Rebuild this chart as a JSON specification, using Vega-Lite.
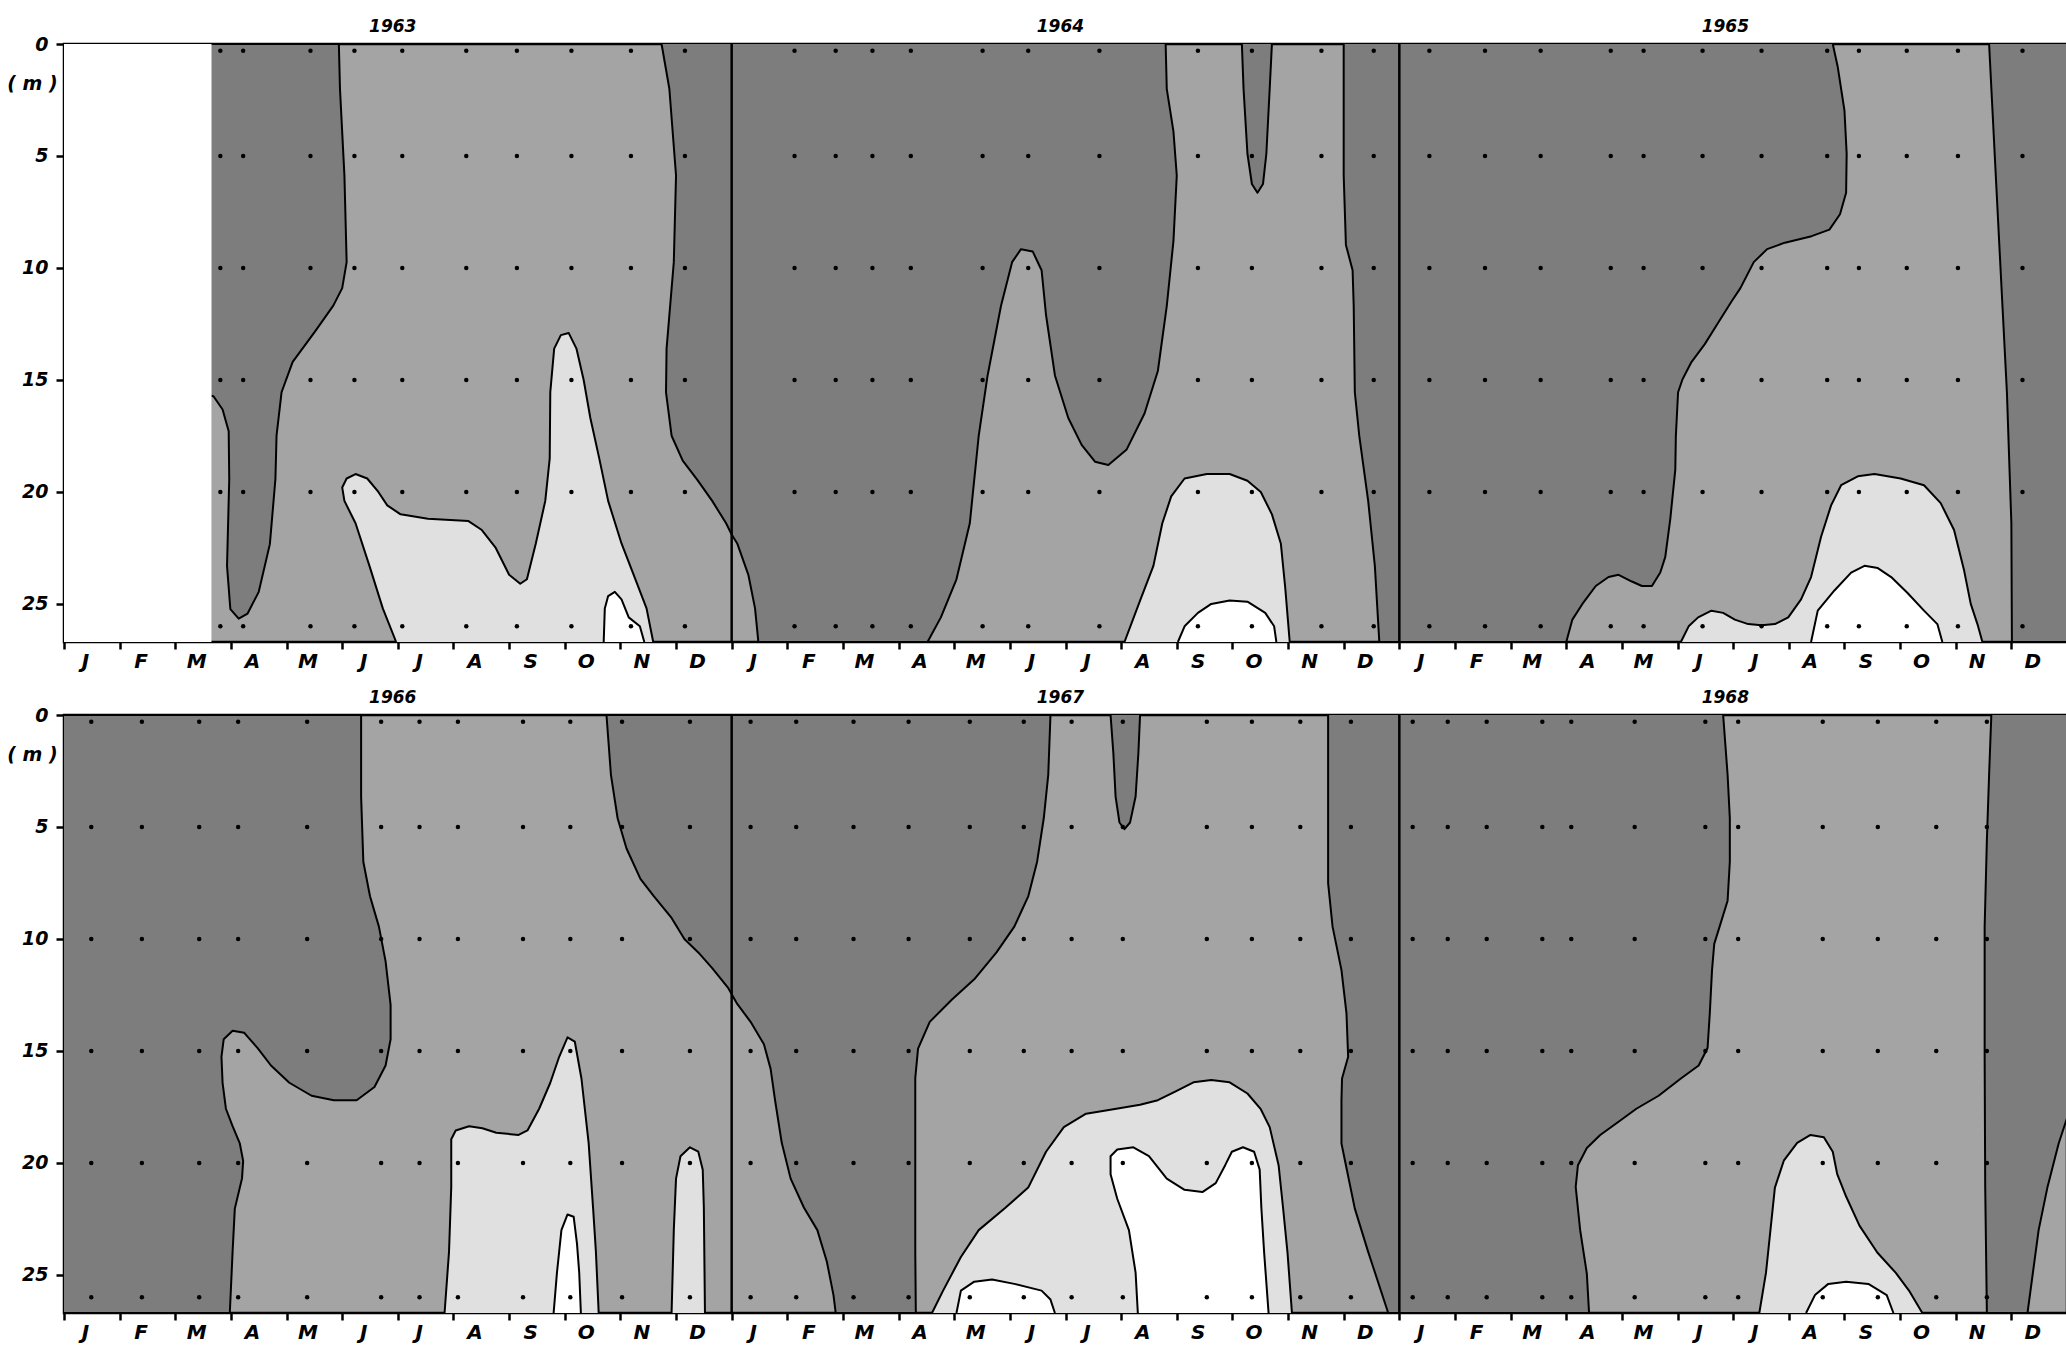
{
"$schema": "https://vega.github.io/schema/vega-lite/v6.json",
"background": "white",
"padding": {"left": 5, "top": 15, "right": 0, "bottom": 0},
"spacing": 13,
"config": {
  "view": {"fill": "#a4a4a4", "stroke": "#000", "strokeWidth": 2.5},
  "axis": {"labelFont": "DejaVu Sans", "labelFontWeight": "bold", "labelFontStyle": "italic", "labelColor": "#000", "titleFont": "DejaVu Sans", "titleColor": "#000", "grid": false, "tickColor": "#000", "domainColor": "#000"}
},
"datasets": {
  "topA": [
    {"id":"a1","t":2.65,"d":0},{"id":"a1","t":4.94,"d":0},{"id":"a1","t":4.96,"d":2.0},{"id":"a1","t":5.04,"d":5.87},{"id":"a1","t":5.08,"d":9.74},{"id":"a1","t":5.0,"d":10.9},{"id":"a1","t":4.84,"d":11.68},{"id":"a1","t":4.51,"d":12.84},{"id":"a1","t":4.11,"d":14.19},{"id":"a1","t":3.91,"d":15.55},{"id":"a1","t":3.82,"d":17.49},{"id":"a1","t":3.8,"d":19.42},{"id":"a1","t":3.7,"d":22.33},{"id":"a1","t":3.5,"d":24.46},{"id":"a1","t":3.3,"d":25.43},{"id":"a1","t":3.14,"d":25.66},{"id":"a1","t":2.99,"d":25.23},{"id":"a1","t":2.93,"d":23.3},{"id":"a1","t":2.97,"d":19.42},{"id":"a1","t":2.96,"d":17.29},{"id":"a1","t":2.85,"d":16.32},{"id":"a1","t":2.69,"d":15.74},{"id":"a1","t":2.65,"d":15.7},
    {"id":"a2","t":10.74,"d":0},{"id":"a2","t":10.88,"d":2.0},{"id":"a2","t":11.0,"d":5.87},{"id":"a2","t":10.96,"d":9.74},{"id":"a2","t":10.83,"d":13.6},{"id":"a2","t":10.82,"d":15.55},{"id":"a2","t":10.92,"d":17.49},{"id":"a2","t":11.12,"d":18.6},{"id":"a2","t":11.38,"d":19.45},{"id":"a2","t":11.65,"d":20.4},{"id":"a2","t":11.9,"d":21.4},{"id":"a2","t":12.0,"d":21.9},{"id":"a2","t":12.1,"d":22.3},{"id":"a2","t":12.3,"d":23.7},{"id":"a2","t":12.42,"d":25.2},{"id":"a2","t":12.48,"d":26.7},{"id":"a2","t":15.52,"d":26.7},{"id":"a2","t":15.76,"d":25.6},{"id":"a2","t":16.04,"d":23.9},{"id":"a2","t":16.28,"d":21.4},{"id":"a2","t":16.44,"d":17.5},{"id":"a2","t":16.6,"d":14.8},{"id":"a2","t":16.84,"d":11.7},{"id":"a2","t":17.04,"d":9.74},{"id":"a2","t":17.2,"d":9.16},{"id":"a2","t":17.41,"d":9.26},{"id":"a2","t":17.57,"d":10.1},{"id":"a2","t":17.65,"d":12.1},{"id":"a2","t":17.81,"d":14.8},{"id":"a2","t":18.05,"d":16.7},{"id":"a2","t":18.29,"d":17.9},{"id":"a2","t":18.53,"d":18.65},{"id":"a2","t":18.77,"d":18.8},{"id":"a2","t":19.1,"d":18.1},{"id":"a2","t":19.42,"d":16.5},{"id":"a2","t":19.66,"d":14.6},{"id":"a2","t":19.82,"d":11.7},{"id":"a2","t":19.94,"d":8.8},{"id":"a2","t":20.0,"d":5.87},{"id":"a2","t":19.94,"d":3.9},{"id":"a2","t":19.82,"d":2.0},{"id":"a2","t":19.8,"d":0},
    {"id":"a3","t":21.17,"d":0},{"id":"a3","t":21.2,"d":2.0},{"id":"a3","t":21.27,"d":4.9},{"id":"a3","t":21.35,"d":6.25},{"id":"a3","t":21.45,"d":6.64},{"id":"a3","t":21.55,"d":6.25},{"id":"a3","t":21.61,"d":4.9},{"id":"a3","t":21.67,"d":2.0},{"id":"a3","t":21.71,"d":0},
    {"id":"a4","t":23.0,"d":0},{"id":"a4","t":23.0,"d":5.87},{"id":"a4","t":23.04,"d":8.97},{"id":"a4","t":23.16,"d":10.1},{"id":"a4","t":23.18,"d":11.7},{"id":"a4","t":23.2,"d":15.55},{"id":"a4","t":23.28,"d":17.5},{"id":"a4","t":23.44,"d":20.4},{"id":"a4","t":23.56,"d":23.3},{"id":"a4","t":23.64,"d":26.7},{"id":"a4","t":27.0,"d":26.7},{"id":"a4","t":27.11,"d":25.7},{"id":"a4","t":27.29,"d":25.0},{"id":"a4","t":27.53,"d":24.2},{"id":"a4","t":27.76,"d":23.8},{"id":"a4","t":27.94,"d":23.7},{"id":"a4","t":28.18,"d":24.0},{"id":"a4","t":28.36,"d":24.2},{"id":"a4","t":28.54,"d":24.2},{"id":"a4","t":28.69,"d":23.6},{"id":"a4","t":28.78,"d":22.9},{"id":"a4","t":28.87,"d":21.2},{"id":"a4","t":28.96,"d":19.0},{"id":"a4","t":28.97,"d":17.5},{"id":"a4","t":29.01,"d":15.55},{"id":"a4","t":29.09,"d":14.97},{"id":"a4","t":29.25,"d":14.2},{"id":"a4","t":29.49,"d":13.4},{"id":"a4","t":29.73,"d":12.45},{"id":"a4","t":29.97,"d":11.5},{"id":"a4","t":30.13,"d":10.9},{"id":"a4","t":30.37,"d":9.74},{"id":"a4","t":30.61,"d":9.16},{"id":"a4","t":30.93,"d":8.87},{"id":"a4","t":31.41,"d":8.58},{"id":"a4","t":31.73,"d":8.29},{"id":"a4","t":31.92,"d":7.6},{"id":"a4","t":32.03,"d":6.64},{"id":"a4","t":32.04,"d":4.9},{"id":"a4","t":32.0,"d":2.96},{"id":"a4","t":31.88,"d":1.03},{"id":"a4","t":31.79,"d":0},
    {"id":"a5","t":34.6,"d":0},{"id":"a5","t":34.72,"d":5.87},{"id":"a5","t":34.84,"d":11.7},{"id":"a5","t":34.92,"d":15.55},{"id":"a5","t":35.0,"d":21.4},{"id":"a5","t":35.01,"d":26.7},{"id":"a5","t":36,"d":26.7},{"id":"a5","t":36,"d":0}
  ],
  "topC": [
    {"id":"c1","t":5.97,"d":26.7},{"id":"c1","t":5.73,"d":25.2},{"id":"c1","t":5.49,"d":23.3},{"id":"c1","t":5.24,"d":21.4},{"id":"c1","t":5.04,"d":20.4},{"id":"c1","t":5.0,"d":19.8},{"id":"c1","t":5.08,"d":19.4},{"id":"c1","t":5.24,"d":19.2},{"id":"c1","t":5.45,"d":19.4},{"id":"c1","t":5.65,"d":20.0},{"id":"c1","t":5.81,"d":20.6},{"id":"c1","t":6.05,"d":21.0},{"id":"c1","t":6.54,"d":21.2},{"id":"c1","t":7.27,"d":21.3},{"id":"c1","t":7.51,"d":21.7},{"id":"c1","t":7.76,"d":22.5},{"id":"c1","t":8.0,"d":23.7},{"id":"c1","t":8.2,"d":24.1},{"id":"c1","t":8.32,"d":23.9},{"id":"c1","t":8.48,"d":22.3},{"id":"c1","t":8.65,"d":20.4},{"id":"c1","t":8.73,"d":18.5},{"id":"c1","t":8.74,"d":15.55},{"id":"c1","t":8.81,"d":13.6},{"id":"c1","t":8.93,"d":13.0},{"id":"c1","t":9.07,"d":12.9},{"id":"c1","t":9.21,"d":13.6},{"id":"c1","t":9.34,"d":15.0},{"id":"c1","t":9.46,"d":16.7},{"id":"c1","t":9.62,"d":18.5},{"id":"c1","t":9.78,"d":20.4},{"id":"c1","t":10.02,"d":22.3},{"id":"c1","t":10.27,"d":23.9},{"id":"c1","t":10.47,"d":25.2},{"id":"c1","t":10.59,"d":26.7},
    {"id":"c2","t":19.06,"d":26.7},{"id":"c2","t":19.34,"d":24.85},{"id":"c2","t":19.58,"d":23.3},{"id":"c2","t":19.74,"d":21.4},{"id":"c2","t":19.9,"d":20.2},{"id":"c2","t":20.14,"d":19.4},{"id":"c2","t":20.54,"d":19.2},{"id":"c2","t":20.95,"d":19.2},{"id":"c2","t":21.27,"d":19.5},{"id":"c2","t":21.51,"d":20.0},{"id":"c2","t":21.71,"d":21.0},{"id":"c2","t":21.87,"d":22.3},{"id":"c2","t":21.95,"d":24.3},{"id":"c2","t":22.03,"d":26.7},
    {"id":"c3","t":29.06,"d":26.7},{"id":"c3","t":29.2,"d":26.0},{"id":"c3","t":29.37,"d":25.6},{"id":"c3","t":29.61,"d":25.3},{"id":"c3","t":29.82,"d":25.4},{"id":"c3","t":30.03,"d":25.7},{"id":"c3","t":30.27,"d":25.9},{"id":"c3","t":30.51,"d":25.95},{"id":"c3","t":30.75,"d":25.9},{"id":"c3","t":30.99,"d":25.6},{"id":"c3","t":31.22,"d":24.8},{"id":"c3","t":31.4,"d":23.8},{"id":"c3","t":31.58,"d":22.0},{"id":"c3","t":31.76,"d":20.6},{"id":"c3","t":31.94,"d":19.7},{"id":"c3","t":32.24,"d":19.3},{"id":"c3","t":32.54,"d":19.2},{"id":"c3","t":33.01,"d":19.4},{"id":"c3","t":33.43,"d":19.7},{"id":"c3","t":33.73,"d":20.5},{"id":"c3","t":33.97,"d":21.7},{"id":"c3","t":34.15,"d":23.5},{"id":"c3","t":34.27,"d":25.0},{"id":"c3","t":34.39,"d":25.9},{"id":"c3","t":34.48,"d":26.7}
  ],
  "topD": [
    {"id":"d1","t":9.7,"d":26.7},{"id":"d1","t":9.72,"d":25.2},{"id":"d1","t":9.78,"d":24.65},{"id":"d1","t":9.9,"d":24.46},{"id":"d1","t":10.02,"d":24.8},{"id":"d1","t":10.15,"d":25.6},{"id":"d1","t":10.35,"d":26.0},{"id":"d1","t":10.43,"d":26.7},
    {"id":"d2","t":20.02,"d":26.7},{"id":"d2","t":20.14,"d":26.0},{"id":"d2","t":20.38,"d":25.4},{"id":"d2","t":20.62,"d":25.0},{"id":"d2","t":20.95,"d":24.85},{"id":"d2","t":21.27,"d":24.9},{"id":"d2","t":21.59,"d":25.4},{"id":"d2","t":21.75,"d":26.0},{"id":"d2","t":21.79,"d":26.7},
    {"id":"d3","t":31.4,"d":26.7},{"id":"d3","t":31.52,"d":25.3},{"id":"d3","t":31.82,"d":24.4},{"id":"d3","t":32.12,"d":23.6},{"id":"d3","t":32.36,"d":23.3},{"id":"d3","t":32.6,"d":23.4},{"id":"d3","t":32.84,"d":23.8},{"id":"d3","t":33.13,"d":24.5},{"id":"d3","t":33.43,"d":25.3},{"id":"d3","t":33.67,"d":25.9},{"id":"d3","t":33.76,"d":26.7}
  ],
  "topBlank": [
    {"id":"w","t":0,"d":0},{"id":"w","t":2.65,"d":0},{"id":"w","t":2.65,"d":26.7},{"id":"w","t":0,"d":26.7}
  ],
  "botA": [
    {"id":"a7","t":0,"d":0},{"id":"a7","t":5.34,"d":0},{"id":"a7","t":5.34,"d":3.64},{"id":"a7","t":5.38,"d":6.55},{"id":"a7","t":5.5,"d":8.09},{"id":"a7","t":5.66,"d":9.45},{"id":"a7","t":5.78,"d":11.0},{"id":"a7","t":5.87,"d":12.94},{"id":"a7","t":5.87,"d":14.48},{"id":"a7","t":5.78,"d":15.65},{"id":"a7","t":5.58,"d":16.61},{"id":"a7","t":5.26,"d":17.2},{"id":"a7","t":4.85,"d":17.2},{"id":"a7","t":4.45,"d":17.0},{"id":"a7","t":4.05,"d":16.42},{"id":"a7","t":3.72,"d":15.65},{"id":"a7","t":3.48,"d":14.87},{"id":"a7","t":3.24,"d":14.19},{"id":"a7","t":3.03,"d":14.1},{"id":"a7","t":2.87,"d":14.48},{"id":"a7","t":2.83,"d":15.26},{"id":"a7","t":2.85,"d":16.42},{"id":"a7","t":2.91,"d":17.58},{"id":"a7","t":3.03,"d":18.36},{"id":"a7","t":3.16,"d":19.13},{"id":"a7","t":3.22,"d":19.91},{"id":"a7","t":3.2,"d":20.68},{"id":"a7","t":3.07,"d":22.04},{"id":"a7","t":3.03,"d":23.97},{"id":"a7","t":2.98,"d":26.7},{"id":"a7","t":0,"d":26.7},
    {"id":"a8","t":9.75,"d":0},{"id":"a8","t":17.73,"d":0},{"id":"a8","t":17.69,"d":2.67},{"id":"a8","t":17.61,"d":4.6},{"id":"a8","t":17.49,"d":6.55},{"id":"a8","t":17.33,"d":8.1},{"id":"a8","t":17.08,"d":9.45},{"id":"a8","t":16.76,"d":10.6},{"id":"a8","t":16.36,"d":11.8},{"id":"a8","t":15.96,"d":12.7},{"id":"a8","t":15.56,"d":13.7},{"id":"a8","t":15.35,"d":14.9},{"id":"a8","t":15.3,"d":16.2},{"id":"a8","t":15.3,"d":24.0},{"id":"a8","t":15.31,"d":26.7},{"id":"a8","t":13.87,"d":26.7},{"id":"a8","t":13.83,"d":25.9},{"id":"a8","t":13.71,"d":24.4},{"id":"a8","t":13.54,"d":23.0},{"id":"a8","t":13.3,"d":22.0},{"id":"a8","t":13.06,"d":20.7},{"id":"a8","t":12.9,"d":19.1},{"id":"a8","t":12.78,"d":17.2},{"id":"a8","t":12.7,"d":15.8},{"id":"a8","t":12.58,"d":14.7},{"id":"a8","t":12.34,"d":13.7},{"id":"a8","t":12.1,"d":12.9},{"id":"a8","t":11.94,"d":12.2},{"id":"a8","t":11.65,"d":11.3},{"id":"a8","t":11.4,"d":10.6},{"id":"a8","t":11.15,"d":10.0},{"id":"a8","t":10.92,"d":9.06},{"id":"a8","t":10.6,"d":8.09},{"id":"a8","t":10.36,"d":7.32},{"id":"a8","t":10.11,"d":5.96},{"id":"a8","t":9.95,"d":4.61},{"id":"a8","t":9.83,"d":2.67},{"id":"a8","t":9.75,"d":0},
    {"id":"a9","t":18.81,"d":0},{"id":"a9","t":18.86,"d":1.7},{"id":"a9","t":18.9,"d":3.64},{"id":"a9","t":18.97,"d":4.8},{"id":"a9","t":19.06,"d":5.1},{"id":"a9","t":19.16,"d":4.8},{"id":"a9","t":19.26,"d":3.64},{"id":"a9","t":19.31,"d":1.7},{"id":"a9","t":19.34,"d":0},
    {"id":"a10","t":22.72,"d":0},{"id":"a10","t":22.72,"d":7.51},{"id":"a10","t":22.8,"d":9.45},{"id":"a10","t":22.96,"d":11.39},{"id":"a10","t":23.05,"d":13.32},{"id":"a10","t":23.08,"d":15.26},{"id":"a10","t":22.97,"d":16.23},{"id":"a10","t":22.96,"d":17.2},{"id":"a10","t":22.96,"d":19.13},{"id":"a10","t":23.04,"d":20.1},{"id":"a10","t":23.2,"d":22.04},{"id":"a10","t":23.44,"d":23.97},{"id":"a10","t":23.8,"d":26.7},{"id":"a10","t":27.41,"d":26.7},{"id":"a10","t":27.37,"d":24.94},{"id":"a10","t":27.25,"d":23.0},{"id":"a10","t":27.17,"d":21.07},{"id":"a10","t":27.21,"d":20.1},{"id":"a10","t":27.37,"d":19.33},{"id":"a10","t":27.61,"d":18.75},{"id":"a10","t":27.94,"d":18.16},{"id":"a10","t":28.26,"d":17.58},{"id":"a10","t":28.66,"d":17.0},{"id":"a10","t":29.06,"d":16.23},{"id":"a10","t":29.38,"d":15.65},{"id":"a10","t":29.54,"d":14.87},{"id":"a10","t":29.58,"d":13.32},{"id":"a10","t":29.62,"d":11.39},{"id":"a10","t":29.66,"d":10.22},{"id":"a10","t":29.78,"d":9.26},{"id":"a10","t":29.9,"d":8.29},{"id":"a10","t":29.94,"d":6.55},{"id":"a10","t":29.94,"d":4.61},{"id":"a10","t":29.9,"d":2.67},{"id":"a10","t":29.82,"d":0},
    {"id":"a11","t":34.64,"d":0},{"id":"a11","t":34.6,"d":2.67},{"id":"a11","t":34.56,"d":5.58},{"id":"a11","t":34.52,"d":9.45},{"id":"a11","t":34.52,"d":15.26},{"id":"a11","t":34.53,"d":21.07},{"id":"a11","t":34.56,"d":26.7},{"id":"a11","t":35.29,"d":26.7},{"id":"a11","t":35.49,"d":23.0},{"id":"a11","t":35.65,"d":21.07},{"id":"a11","t":35.85,"d":19.13},{"id":"a11","t":36,"d":18.0},{"id":"a11","t":36,"d":0}
  ],
  "botC": [
    {"id":"c4","t":6.84,"d":26.7},{"id":"c4","t":6.92,"d":23.97},{"id":"c4","t":6.96,"d":21.07},{"id":"c4","t":6.96,"d":18.94},{"id":"c4","t":7.04,"d":18.55},{"id":"c4","t":7.28,"d":18.36},{"id":"c4","t":7.52,"d":18.45},{"id":"c4","t":7.77,"d":18.65},{"id":"c4","t":8.17,"d":18.75},{"id":"c4","t":8.33,"d":18.55},{"id":"c4","t":8.54,"d":17.58},{"id":"c4","t":8.74,"d":16.42},{"id":"c4","t":8.9,"d":15.26},{"id":"c4","t":9.05,"d":14.39},{"id":"c4","t":9.18,"d":14.58},{"id":"c4","t":9.3,"d":16.23},{"id":"c4","t":9.43,"d":19.13},{"id":"c4","t":9.51,"d":22.04},{"id":"c4","t":9.56,"d":23.97},{"id":"c4","t":9.61,"d":26.7},
    {"id":"c5","t":10.92,"d":26.7},{"id":"c5","t":10.96,"d":23.0},{"id":"c5","t":11.0,"d":20.7},{"id":"c5","t":11.08,"d":19.7},{"id":"c5","t":11.25,"d":19.3},{"id":"c5","t":11.4,"d":19.5},{"id":"c5","t":11.48,"d":20.3},{"id":"c5","t":11.5,"d":22.0},{"id":"c5","t":11.52,"d":26.7},
    {"id":"c6","t":15.6,"d":26.7},{"id":"c6","t":15.8,"d":25.7},{"id":"c6","t":16.12,"d":24.2},{"id":"c6","t":16.44,"d":23.0},{"id":"c6","t":16.92,"d":22.0},{"id":"c6","t":17.33,"d":21.1},{"id":"c6","t":17.65,"d":19.5},{"id":"c6","t":17.97,"d":18.4},{"id":"c6","t":18.37,"d":17.8},{"id":"c6","t":18.86,"d":17.6},{"id":"c6","t":19.34,"d":17.4},{"id":"c6","t":19.66,"d":17.2},{"id":"c6","t":19.98,"d":16.8},{"id":"c6","t":20.3,"d":16.4},{"id":"c6","t":20.62,"d":16.3},{"id":"c6","t":20.95,"d":16.4},{"id":"c6","t":21.27,"d":16.9},{"id":"c6","t":21.51,"d":17.6},{"id":"c6","t":21.67,"d":18.4},{"id":"c6","t":21.83,"d":20.1},{"id":"c6","t":21.91,"d":22.0},{"id":"c6","t":21.99,"d":24.0},{"id":"c6","t":22.07,"d":26.7},
    {"id":"c7","t":30.47,"d":26.7},{"id":"c7","t":30.59,"d":24.9},{"id":"c7","t":30.67,"d":23.0},{"id":"c7","t":30.75,"d":21.1},{"id":"c7","t":30.91,"d":19.9},{"id":"c7","t":31.15,"d":19.1},{"id":"c7","t":31.39,"d":18.75},{"id":"c7","t":31.63,"d":18.85},{"id":"c7","t":31.79,"d":19.5},{"id":"c7","t":31.87,"d":20.5},{"id":"c7","t":32.03,"d":21.5},{"id":"c7","t":32.27,"d":22.8},{"id":"c7","t":32.59,"d":24.0},{"id":"c7","t":32.92,"d":24.9},{"id":"c7","t":33.16,"d":25.7},{"id":"c7","t":33.4,"d":26.7}
  ],
  "botD": [
    {"id":"d4","t":8.8,"d":26.7},{"id":"d4","t":8.86,"d":24.9},{"id":"d4","t":8.94,"d":23.0},{"id":"d4","t":9.05,"d":22.3},{"id":"d4","t":9.16,"d":22.4},{"id":"d4","t":9.22,"d":23.6},{"id":"d4","t":9.26,"d":24.9},{"id":"d4","t":9.29,"d":26.7},
    {"id":"d5","t":16.04,"d":26.7},{"id":"d5","t":16.12,"d":25.7},{"id":"d5","t":16.36,"d":25.3},{"id":"d5","t":16.68,"d":25.2},{"id":"d5","t":17.08,"d":25.4},{"id":"d5","t":17.57,"d":25.7},{"id":"d5","t":17.73,"d":26.1},{"id":"d5","t":17.81,"d":26.7},
    {"id":"d6","t":19.3,"d":26.7},{"id":"d6","t":19.26,"d":24.9},{"id":"d6","t":19.14,"d":23.0},{"id":"d6","t":18.93,"d":21.6},{"id":"d6","t":18.81,"d":20.5},{"id":"d6","t":18.81,"d":19.7},{"id":"d6","t":18.93,"d":19.4},{"id":"d6","t":19.22,"d":19.3},{"id":"d6","t":19.5,"d":19.7},{"id":"d6","t":19.82,"d":20.7},{"id":"d6","t":20.14,"d":21.2},{"id":"d6","t":20.46,"d":21.3},{"id":"d6","t":20.7,"d":20.9},{"id":"d6","t":20.87,"d":20.1},{"id":"d6","t":20.99,"d":19.5},{"id":"d6","t":21.19,"d":19.3},{"id":"d6","t":21.39,"d":19.5},{"id":"d6","t":21.49,"d":20.3},{"id":"d6","t":21.52,"d":22.0},{"id":"d6","t":21.57,"d":24.0},{"id":"d6","t":21.65,"d":26.7},
    {"id":"d7","t":31.31,"d":26.7},{"id":"d7","t":31.47,"d":25.9},{"id":"d7","t":31.71,"d":25.4},{"id":"d7","t":32.03,"d":25.3},{"id":"d7","t":32.43,"d":25.4},{"id":"d7","t":32.76,"d":25.9},{"id":"d7","t":32.88,"d":26.7}
  ],
  "topDots": [
    {"t":2.81,"d":0.3},{"t":2.81,"d":5},{"t":2.81,"d":10},{"t":2.81,"d":15},{"t":2.81,"d":20},{"t":2.81,"d":26},
    {"t":3.22,"d":0.3},{"t":3.22,"d":5},{"t":3.22,"d":10},{"t":3.22,"d":15},{"t":3.22,"d":20},{"t":3.22,"d":26},
    {"t":4.43,"d":0.3},{"t":4.43,"d":5},{"t":4.43,"d":10},{"t":4.43,"d":15},{"t":4.43,"d":20},{"t":4.43,"d":26},
    {"t":5.22,"d":0.3},{"t":5.22,"d":5},{"t":5.22,"d":10},{"t":5.22,"d":15},{"t":5.22,"d":20},{"t":5.22,"d":26},
    {"t":6.08,"d":0.3},{"t":6.08,"d":5},{"t":6.08,"d":10},{"t":6.08,"d":15},{"t":6.08,"d":20},{"t":6.08,"d":26},
    {"t":7.23,"d":0.3},{"t":7.23,"d":5},{"t":7.23,"d":10},{"t":7.23,"d":15},{"t":7.23,"d":20},{"t":7.23,"d":26},
    {"t":8.14,"d":0.3},{"t":8.14,"d":5},{"t":8.14,"d":10},{"t":8.14,"d":15},{"t":8.14,"d":20},{"t":8.14,"d":26},
    {"t":9.12,"d":0.3},{"t":9.12,"d":5},{"t":9.12,"d":10},{"t":9.12,"d":15},{"t":9.12,"d":20},{"t":9.12,"d":26},
    {"t":10.19,"d":0.3},{"t":10.19,"d":5},{"t":10.19,"d":10},{"t":10.19,"d":15},{"t":10.19,"d":20},{"t":10.19,"d":26},
    {"t":11.16,"d":0.3},{"t":11.16,"d":5},{"t":11.16,"d":10},{"t":11.16,"d":15},{"t":11.16,"d":20},{"t":11.16,"d":26},
    {"t":13.13,"d":0.3},{"t":13.13,"d":5},{"t":13.13,"d":10},{"t":13.13,"d":15},{"t":13.13,"d":20},{"t":13.13,"d":26},
    {"t":13.87,"d":0.3},{"t":13.87,"d":5},{"t":13.87,"d":10},{"t":13.87,"d":15},{"t":13.87,"d":20},{"t":13.87,"d":26},
    {"t":14.53,"d":0.3},{"t":14.53,"d":5},{"t":14.53,"d":10},{"t":14.53,"d":15},{"t":14.53,"d":20},{"t":14.53,"d":26},
    {"t":15.22,"d":0.3},{"t":15.22,"d":5},{"t":15.22,"d":10},{"t":15.22,"d":15},{"t":15.22,"d":20},{"t":15.22,"d":26},
    {"t":16.51,"d":0.3},{"t":16.51,"d":5},{"t":16.51,"d":10},{"t":16.51,"d":15},{"t":16.51,"d":20},{"t":16.51,"d":26},
    {"t":17.33,"d":0.3},{"t":17.33,"d":5},{"t":17.33,"d":10},{"t":17.33,"d":15},{"t":17.33,"d":20},{"t":17.33,"d":26},
    {"t":18.61,"d":0.3},{"t":18.61,"d":5},{"t":18.61,"d":10},{"t":18.61,"d":15},{"t":18.61,"d":20},{"t":18.61,"d":26},
    {"t":20.38,"d":0.3},{"t":20.38,"d":5},{"t":20.38,"d":10},{"t":20.38,"d":15},{"t":20.38,"d":20},{"t":20.38,"d":26},
    {"t":21.35,"d":0.3},{"t":21.35,"d":5},{"t":21.35,"d":10},{"t":21.35,"d":15},{"t":21.35,"d":20},{"t":21.35,"d":26},
    {"t":22.6,"d":0.3},{"t":22.6,"d":5},{"t":22.6,"d":10},{"t":22.6,"d":15},{"t":22.6,"d":20},{"t":22.6,"d":26},
    {"t":23.54,"d":0.3},{"t":23.54,"d":5},{"t":23.54,"d":10},{"t":23.54,"d":15},{"t":23.54,"d":20},{"t":23.54,"d":26},
    {"t":24.54,"d":0.3},{"t":24.54,"d":5},{"t":24.54,"d":10},{"t":24.54,"d":15},{"t":24.54,"d":20},{"t":24.54,"d":26},
    {"t":25.54,"d":0.3},{"t":25.54,"d":5},{"t":25.54,"d":10},{"t":25.54,"d":15},{"t":25.54,"d":20},{"t":25.54,"d":26},
    {"t":26.54,"d":0.3},{"t":26.54,"d":5},{"t":26.54,"d":10},{"t":26.54,"d":15},{"t":26.54,"d":20},{"t":26.54,"d":26},
    {"t":27.8,"d":0.3},{"t":27.8,"d":5},{"t":27.8,"d":10},{"t":27.8,"d":15},{"t":27.8,"d":20},{"t":27.8,"d":26},
    {"t":28.39,"d":0.3},{"t":28.39,"d":5},{"t":28.39,"d":10},{"t":28.39,"d":15},{"t":28.39,"d":20},{"t":28.39,"d":26},
    {"t":29.45,"d":0.3},{"t":29.45,"d":5},{"t":29.45,"d":10},{"t":29.45,"d":15},{"t":29.45,"d":20},{"t":29.45,"d":26},
    {"t":30.51,"d":0.3},{"t":30.51,"d":5},{"t":30.51,"d":10},{"t":30.51,"d":15},{"t":30.51,"d":20},{"t":30.51,"d":26},
    {"t":31.69,"d":0.3},{"t":31.69,"d":5},{"t":31.69,"d":10},{"t":31.69,"d":15},{"t":31.69,"d":20},{"t":31.69,"d":26},
    {"t":32.26,"d":0.3},{"t":32.26,"d":5},{"t":32.26,"d":10},{"t":32.26,"d":15},{"t":32.26,"d":20},{"t":32.26,"d":26},
    {"t":33.12,"d":0.3},{"t":33.12,"d":5},{"t":33.12,"d":10},{"t":33.12,"d":15},{"t":33.12,"d":20},{"t":33.12,"d":26},
    {"t":34.04,"d":0.3},{"t":34.04,"d":5},{"t":34.04,"d":10},{"t":34.04,"d":15},{"t":34.04,"d":20},{"t":34.04,"d":26},
    {"t":35.2,"d":0.3},{"t":35.2,"d":5},{"t":35.2,"d":10},{"t":35.2,"d":15},{"t":35.2,"d":20},{"t":35.2,"d":26}
  ],
  "botDots": [
    {"t":0.49,"d":0.3},{"t":0.49,"d":5},{"t":0.49,"d":10},{"t":0.49,"d":15},{"t":0.49,"d":20},{"t":0.49,"d":26},
    {"t":1.4,"d":0.3},{"t":1.4,"d":5},{"t":1.4,"d":10},{"t":1.4,"d":15},{"t":1.4,"d":20},{"t":1.4,"d":26},
    {"t":2.43,"d":0.3},{"t":2.43,"d":5},{"t":2.43,"d":10},{"t":2.43,"d":15},{"t":2.43,"d":20},{"t":2.43,"d":26},
    {"t":3.13,"d":0.3},{"t":3.13,"d":5},{"t":3.13,"d":10},{"t":3.13,"d":15},{"t":3.13,"d":20},{"t":3.13,"d":26},
    {"t":4.37,"d":0.3},{"t":4.37,"d":5},{"t":4.37,"d":10},{"t":4.37,"d":15},{"t":4.37,"d":20},{"t":4.37,"d":26},
    {"t":5.7,"d":0.3},{"t":5.7,"d":5},{"t":5.7,"d":10},{"t":5.7,"d":15},{"t":5.7,"d":20},{"t":5.7,"d":26},
    {"t":6.39,"d":0.3},{"t":6.39,"d":5},{"t":6.39,"d":10},{"t":6.39,"d":15},{"t":6.39,"d":20},{"t":6.39,"d":26},
    {"t":7.08,"d":0.3},{"t":7.08,"d":5},{"t":7.08,"d":10},{"t":7.08,"d":15},{"t":7.08,"d":20},{"t":7.08,"d":26},
    {"t":8.25,"d":0.3},{"t":8.25,"d":5},{"t":8.25,"d":10},{"t":8.25,"d":15},{"t":8.25,"d":20},{"t":8.25,"d":26},
    {"t":9.1,"d":0.3},{"t":9.1,"d":5},{"t":9.1,"d":10},{"t":9.1,"d":15},{"t":9.1,"d":20},{"t":9.1,"d":26},
    {"t":10.03,"d":0.3},{"t":10.03,"d":5},{"t":10.03,"d":10},{"t":10.03,"d":15},{"t":10.03,"d":20},{"t":10.03,"d":26},
    {"t":11.25,"d":0.3},{"t":11.25,"d":5},{"t":11.25,"d":10},{"t":11.25,"d":15},{"t":11.25,"d":20},{"t":11.25,"d":26},
    {"t":12.34,"d":0.3},{"t":12.34,"d":5},{"t":12.34,"d":10},{"t":12.34,"d":15},{"t":12.34,"d":20},{"t":12.34,"d":26},
    {"t":13.16,"d":0.3},{"t":13.16,"d":5},{"t":13.16,"d":10},{"t":13.16,"d":15},{"t":13.16,"d":20},{"t":13.16,"d":26},
    {"t":14.19,"d":0.3},{"t":14.19,"d":5},{"t":14.19,"d":10},{"t":14.19,"d":15},{"t":14.19,"d":20},{"t":14.19,"d":26},
    {"t":15.18,"d":0.3},{"t":15.18,"d":5},{"t":15.18,"d":10},{"t":15.18,"d":15},{"t":15.18,"d":20},{"t":15.18,"d":26},
    {"t":16.28,"d":0.3},{"t":16.28,"d":5},{"t":16.28,"d":10},{"t":16.28,"d":15},{"t":16.28,"d":20},{"t":16.28,"d":26},
    {"t":17.25,"d":0.3},{"t":17.25,"d":5},{"t":17.25,"d":10},{"t":17.25,"d":15},{"t":17.25,"d":20},{"t":17.25,"d":26},
    {"t":18.11,"d":0.3},{"t":18.11,"d":5},{"t":18.11,"d":10},{"t":18.11,"d":15},{"t":18.11,"d":20},{"t":18.11,"d":26},
    {"t":19.03,"d":0.3},{"t":19.03,"d":5},{"t":19.03,"d":10},{"t":19.03,"d":15},{"t":19.03,"d":20},{"t":19.03,"d":26},
    {"t":20.54,"d":0.3},{"t":20.54,"d":5},{"t":20.54,"d":10},{"t":20.54,"d":15},{"t":20.54,"d":20},{"t":20.54,"d":26},
    {"t":21.35,"d":0.3},{"t":21.35,"d":5},{"t":21.35,"d":10},{"t":21.35,"d":15},{"t":21.35,"d":20},{"t":21.35,"d":26},
    {"t":22.22,"d":0.3},{"t":22.22,"d":5},{"t":22.22,"d":10},{"t":22.22,"d":15},{"t":22.22,"d":20},{"t":22.22,"d":26},
    {"t":23.13,"d":0.3},{"t":23.13,"d":5},{"t":23.13,"d":10},{"t":23.13,"d":15},{"t":23.13,"d":20},{"t":23.13,"d":26},
    {"t":24.24,"d":0.3},{"t":24.24,"d":5},{"t":24.24,"d":10},{"t":24.24,"d":15},{"t":24.24,"d":20},{"t":24.24,"d":26},
    {"t":24.87,"d":0.3},{"t":24.87,"d":5},{"t":24.87,"d":10},{"t":24.87,"d":15},{"t":24.87,"d":20},{"t":24.87,"d":26},
    {"t":25.57,"d":0.3},{"t":25.57,"d":5},{"t":25.57,"d":10},{"t":25.57,"d":15},{"t":25.57,"d":20},{"t":25.57,"d":26},
    {"t":26.57,"d":0.3},{"t":26.57,"d":5},{"t":26.57,"d":10},{"t":26.57,"d":15},{"t":26.57,"d":20},{"t":26.57,"d":26},
    {"t":27.09,"d":0.3},{"t":27.09,"d":5},{"t":27.09,"d":10},{"t":27.09,"d":15},{"t":27.09,"d":20},{"t":27.09,"d":26},
    {"t":28.23,"d":0.3},{"t":28.23,"d":5},{"t":28.23,"d":10},{"t":28.23,"d":15},{"t":28.23,"d":20},{"t":28.23,"d":26},
    {"t":29.5,"d":0.3},{"t":29.5,"d":5},{"t":29.5,"d":10},{"t":29.5,"d":15},{"t":29.5,"d":20},{"t":29.5,"d":26},
    {"t":30.09,"d":0.3},{"t":30.09,"d":5},{"t":30.09,"d":10},{"t":30.09,"d":15},{"t":30.09,"d":20},{"t":30.09,"d":26},
    {"t":31.61,"d":0.3},{"t":31.61,"d":5},{"t":31.61,"d":10},{"t":31.61,"d":15},{"t":31.61,"d":20},{"t":31.61,"d":26},
    {"t":32.6,"d":0.3},{"t":32.6,"d":5},{"t":32.6,"d":10},{"t":32.6,"d":15},{"t":32.6,"d":20},{"t":32.6,"d":26},
    {"t":33.65,"d":0.3},{"t":33.65,"d":5},{"t":33.65,"d":10},{"t":33.65,"d":15},{"t":33.65,"d":20},{"t":33.65,"d":26},
    {"t":34.56,"d":0.3},{"t":34.56,"d":5},{"t":34.56,"d":10},{"t":34.56,"d":15},{"t":34.56,"d":20},{"t":34.56,"d":26}
  ],
  "dividers": [{"t":12},{"t":24}]
},
"vconcat": [
  {
    "width": 2003, "height": 598,
    "resolve": {"axis": {"x": "independent"}},
    "layer": [
      {"data": {"name": "topA"},
       "mark": {"type": "line", "fill": "#7d7d7d", "stroke": "#000", "strokeWidth": 2, "strokeJoin": "round"},
       "encoding": {
         "x": {"field": "t", "type": "quantitative", "scale": {"domain": [0, 36], "nice": false, "zero": false},
               "axis": {"orient": "bottom", "values": [0,1,2,3,4,5,6,7,8,9,10,11,12,13,14,15,16,17,18,19,20,21,22,23,24,25,26,27,28,29,30,31,32,33,34,35,36], "title": null, "tickSize": 7, "tickWidth": 2.5, "domain": false, "labelPadding": 2, "labelOffset": 21, "labelFontSize": 20, "labelFlush": false, "labelOverlap": false, "labelBound": false, "labelExpr": "datum.value < 36 ? ['J','F','M','A','M','J','J','A','S','O','N','D'][datum.value % 12] : ''"}},
         "y": {"field": "d", "type": "quantitative", "scale": {"domain": [0, 26.7], "reverse": true, "nice": false, "zero": false},
               "axis": {"values": [0,5,10,15,20,25], "title": "( m )", "titleAngle": 0, "titleX": -32, "titleY": 39, "titleAlign": "center", "titleBaseline": "middle", "titleFontSize": 19, "titleFontWeight": "bold", "titleFontStyle": "italic", "tickSize": 8, "tickWidth": 2.5, "domain": false, "labelPadding": 8, "labelFontSize": 19, "labelFlush": false}},
         "detail": {"field": "id"},
         "order": {"value": null}
       }},
      {"data": {"name": "topC"},
       "mark": {"type": "line", "fill": "#e0e0e0", "stroke": "#000", "strokeWidth": 2, "strokeJoin": "round"},
       "encoding": {"x": {"field": "t", "type": "quantitative", "axis": null}, "y": {"field": "d", "type": "quantitative"}, "detail": {"field": "id"}, "order": {"value": null}}},
      {"data": {"name": "topD"},
       "mark": {"type": "line", "fill": "#ffffff", "stroke": "#000", "strokeWidth": 2, "strokeJoin": "round"},
       "encoding": {"x": {"field": "t", "type": "quantitative", "axis": null}, "y": {"field": "d", "type": "quantitative"}, "detail": {"field": "id"}, "order": {"value": null}}},
      {"data": {"name": "topBlank"},
       "mark": {"type": "line", "fill": "#ffffff", "strokeWidth": 0},
       "encoding": {"x": {"field": "t", "type": "quantitative", "axis": null}, "y": {"field": "d", "type": "quantitative"}, "detail": {"field": "id"}, "order": {"value": null}}},
      {"data": {"name": "dividers"},
       "mark": {"type": "rule", "stroke": "#000", "strokeWidth": 2.5},
       "encoding": {"x": {"field": "t", "type": "quantitative",
          "axis": {"orient": "top", "values": [5.9, 17.9, 29.85], "title": null, "ticks": false, "domain": false, "labelPadding": 9, "labelFontSize": 17, "labelFlush": false, "labelExpr": "datum.value < 12 ? '1963' : datum.value < 24 ? '1964' : '1965'"}}}},
      {"data": {"name": "topDots"},
       "mark": {"type": "circle", "size": 20, "color": "#000", "opacity": 1},
       "encoding": {"x": {"field": "t", "type": "quantitative", "axis": null}, "y": {"field": "d", "type": "quantitative"}}}
    ]
  },
  {
    "width": 2003, "height": 598,
    "resolve": {"axis": {"x": "independent"}},
    "layer": [
      {"data": {"name": "botA"},
       "mark": {"type": "line", "fill": "#7d7d7d", "stroke": "#000", "strokeWidth": 2, "strokeJoin": "round"},
       "encoding": {
         "x": {"field": "t", "type": "quantitative", "scale": {"domain": [0, 36], "nice": false, "zero": false},
               "axis": {"orient": "bottom", "values": [0,1,2,3,4,5,6,7,8,9,10,11,12,13,14,15,16,17,18,19,20,21,22,23,24,25,26,27,28,29,30,31,32,33,34,35,36], "title": null, "tickSize": 7, "tickWidth": 2.5, "domain": false, "labelPadding": 2, "labelOffset": 21, "labelFontSize": 20, "labelFlush": false, "labelOverlap": false, "labelBound": false, "labelExpr": "datum.value < 36 ? ['J','F','M','A','M','J','J','A','S','O','N','D'][datum.value % 12] : ''"}},
         "y": {"field": "d", "type": "quantitative", "scale": {"domain": [0, 26.7], "reverse": true, "nice": false, "zero": false},
               "axis": {"values": [0,5,10,15,20,25], "title": "( m )", "titleAngle": 0, "titleX": -32, "titleY": 39, "titleAlign": "center", "titleBaseline": "middle", "titleFontSize": 19, "titleFontWeight": "bold", "titleFontStyle": "italic", "tickSize": 8, "tickWidth": 2.5, "domain": false, "labelPadding": 8, "labelFontSize": 19, "labelFlush": false}},
         "detail": {"field": "id"},
         "order": {"value": null}
       }},
      {"data": {"name": "botC"},
       "mark": {"type": "line", "fill": "#e0e0e0", "stroke": "#000", "strokeWidth": 2, "strokeJoin": "round"},
       "encoding": {"x": {"field": "t", "type": "quantitative", "axis": null}, "y": {"field": "d", "type": "quantitative"}, "detail": {"field": "id"}, "order": {"value": null}}},
      {"data": {"name": "botD"},
       "mark": {"type": "line", "fill": "#ffffff", "stroke": "#000", "strokeWidth": 2, "strokeJoin": "round"},
       "encoding": {"x": {"field": "t", "type": "quantitative", "axis": null}, "y": {"field": "d", "type": "quantitative"}, "detail": {"field": "id"}, "order": {"value": null}}},
      {"data": {"name": "dividers"},
       "mark": {"type": "rule", "stroke": "#000", "strokeWidth": 2.5},
       "encoding": {"x": {"field": "t", "type": "quantitative",
          "axis": {"orient": "top", "values": [5.9, 17.9, 29.85], "title": null, "ticks": false, "domain": false, "labelPadding": 9, "labelFontSize": 17, "labelFlush": false, "labelExpr": "datum.value < 12 ? '1966' : datum.value < 24 ? '1967' : '1968'"}}}},
      {"data": {"name": "botDots"},
       "mark": {"type": "circle", "size": 20, "color": "#000", "opacity": 1},
       "encoding": {"x": {"field": "t", "type": "quantitative", "axis": null}, "y": {"field": "d", "type": "quantitative"}}}
    ]
  }
]
}
